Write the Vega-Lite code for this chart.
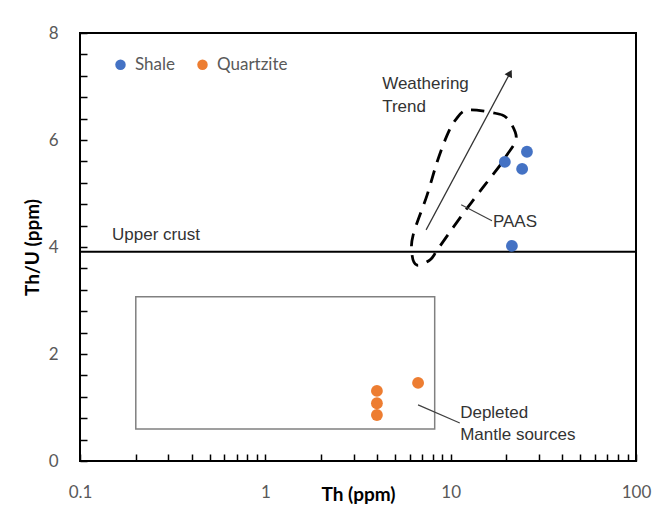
{
  "$schema": "https://vega.github.io/schema/vega-lite/v6.json",
  "width": 556,
  "height": 428,
  "autosize": "none",
  "padding": {"left": 80, "top": 33, "right": 30, "bottom": 53},
  "background": "white",
  "config": {
    "view": {"stroke": "black", "strokeWidth": 2},
    "axis": {"grid": false, "domain": false, "tickColor": "black", "tickWidth": 1.5, "tickSize": -7, "tickCount": 40, "labelFont": "Lato", "labelFontSize": 17, "labelColor": "#595959", "labelOverlap": false, "labelFlush": false, "labelBound": false, "titleFont": "Lato", "titleFontWeight": "bold", "titleFontSize": 19, "titleColor": "black"}
  },
  "datasets": {
    "pts": [
      {"th": 19.6, "thu": 5.59, "type": "Shale"},
      {"th": 25.8, "thu": 5.78, "type": "Shale"},
      {"th": 24.3, "thu": 5.46, "type": "Shale"},
      {"th": 21.4, "thu": 4.02, "type": "Shale"},
      {"th": 4.0, "thu": 1.31, "type": "Quartzite"},
      {"th": 4.0, "thu": 1.08, "type": "Quartzite"},
      {"th": 4.0, "thu": 0.86, "type": "Quartzite"},
      {"th": 6.67, "thu": 1.46, "type": "Quartzite"}
    ],
    "paas": [
      {"i": 1, "th": 12.3, "thu": 6.56},
      {"i": 2, "th": 17.4, "thu": 6.5},
      {"i": 3, "th": 20.1, "thu": 6.41},
      {"i": 4, "th": 22.3, "thu": 6.15},
      {"i": 5, "th": 22.3, "thu": 5.96},
      {"i": 6, "th": 20.1, "thu": 5.72},
      {"i": 7, "th": 18.5, "thu": 5.53},
      {"i": 8, "th": 15.3, "thu": 5.16},
      {"i": 9, "th": 12.3, "thu": 4.73},
      {"i": 10, "th": 9.9, "thu": 4.28},
      {"i": 11, "th": 8.45, "thu": 3.94},
      {"i": 12, "th": 7.74, "thu": 3.76},
      {"i": 13, "th": 6.59, "thu": 3.66},
      {"i": 14, "th": 6.19, "thu": 3.85},
      {"i": 15, "th": 6.27, "thu": 4.22},
      {"i": 16, "th": 7.46, "thu": 4.97},
      {"i": 17, "th": 8.45, "thu": 5.59},
      {"i": 18, "th": 9.57, "thu": 6.09},
      {"i": 19, "th": 10.6, "thu": 6.37}
    ],
    "notes": [
      {"th": 0.149, "thu": 4.22, "label": "Upper crust"},
      {"th": 4.27, "thu": 7.05, "label": "Weathering"},
      {"th": 4.27, "thu": 6.62, "label": "Trend"},
      {"th": 16.9, "thu": 4.47, "label": "PAAS"},
      {"th": 11.25, "thu": 0.9, "label": "Depleted"},
      {"th": 11.25, "thu": 0.49, "label": "Mantle sources"}
    ],
    "leaders": [
      {"th": 11.4, "thu": 4.79, "th2": 16.7, "thu2": 4.49},
      {"th": 6.67, "thu": 1.05, "th2": 11.2, "thu2": 0.71}
    ],
    "arrow": [
      {"th": 7.37, "thu": 4.32, "th2": 20.9, "thu2": 7.25}
    ],
    "box": [
      {"th": 0.2, "th2": 8.2, "thu": 0.6, "thu2": 3.07}
    ],
    "crust": [
      {"thu": 3.91}
    ]
  },
  "layer": [
    {
      "data": {"name": "box"},
      "mark": {"type": "rect", "fill": null, "fillOpacity": 0, "stroke": "#808080", "strokeWidth": 1.5},
      "encoding": {
        "x": {"field": "th", "type": "quantitative", "scale": {"type": "log", "domain": [0.1, 100], "nice": false},
          "axis": {"title": "Th (ppm)", "values": [0.1,0.2,0.3,0.4,0.5,0.6,0.7,0.8,0.9,1,2,3,4,5,6,7,8,9,10,20,30,40,50,60,70,80,90,100],
            "labelExpr": "datum.value == 0.1 ? '0.1' : datum.value == 1 ? '1' : datum.value == 10 ? '10' : datum.value == 100 ? '100' : ''",
            "labelPadding": 30, "titleY": 33, "titleBaseline": "middle"}},
        "x2": {"field": "th2"},
        "y": {"field": "thu", "type": "quantitative", "scale": {"domain": [0, 8], "nice": false},
          "axis": {"title": "Th/U (ppm)", "values": [0,0.4,0.8,1.2,1.6,2,2.4,2.8,3.2,3.6,4,4.4,4.8,5.2,5.6,6,6.4,6.8,7.2,7.6,8],
            "labelExpr": "datum.value % 2 == 0 ? '' + datum.value : ''",
            "labelPadding": 29, "titleX": -48, "titleY": 214, "titleBaseline": "middle", "titleAlign": "center", "titleAngle": -90}},
        "y2": {"field": "thu2"}
      }
    },
    {
      "data": {"name": "crust"},
      "mark": {"type": "rule", "stroke": "black", "strokeWidth": 2},
      "encoding": {"y": {"field": "thu", "type": "quantitative"}}
    },
    {
      "data": {"name": "paas"},
      "mark": {"type": "line", "interpolate": "cardinal-closed", "stroke": "black", "strokeWidth": 2.8, "strokeDash": [13, 9]},
      "encoding": {
        "x": {"field": "th", "type": "quantitative"},
        "y": {"field": "thu", "type": "quantitative"},
        "order": {"field": "i", "type": "quantitative"}
      }
    },
    {
      "data": {"name": "arrow"},
      "mark": {"type": "rule", "stroke": "#333333", "strokeWidth": 1.2},
      "encoding": {
        "x": {"field": "th", "type": "quantitative"},
        "y": {"field": "thu", "type": "quantitative"},
        "x2": {"field": "th2"},
        "y2": {"field": "thu2"}
      }
    },
    {
      "data": {"name": "arrow"},
      "mark": {"type": "point", "shape": "triangle-up", "angle": 28, "filled": true, "color": "#222222", "size": 70, "opacity": 1},
      "encoding": {
        "x": {"field": "th2", "type": "quantitative"},
        "y": {"field": "thu2", "type": "quantitative"}
      }
    },
    {
      "data": {"name": "leaders"},
      "mark": {"type": "rule", "stroke": "#404040", "strokeWidth": 1.2},
      "encoding": {
        "x": {"field": "th", "type": "quantitative"},
        "y": {"field": "thu", "type": "quantitative"},
        "x2": {"field": "th2"},
        "y2": {"field": "thu2"}
      }
    },
    {
      "data": {"name": "pts"},
      "mark": {"type": "point", "filled": true, "size": 140, "opacity": 1},
      "encoding": {
        "x": {"field": "th", "type": "quantitative"},
        "y": {"field": "thu", "type": "quantitative"},
        "color": {"field": "type", "type": "nominal",
          "scale": {"domain": ["Shale", "Quartzite"], "range": ["#4472C4", "#ED7D31"]},
          "legend": {"title": null, "orient": "none", "legendX": 32, "legendY": 23, "direction": "horizontal",
            "symbolType": "circle", "symbolSize": 110, "labelFont": "Lato", "labelFontSize": 17, "labelColor": "#595959", "labelOffset": 6, "columnPadding": 18}}
      }
    },
    {
      "data": {"name": "notes"},
      "mark": {"type": "text", "align": "left", "baseline": "middle", "font": "Liberation Sans", "fontSize": 17, "color": "#333333"},
      "encoding": {
        "x": {"field": "th", "type": "quantitative"},
        "y": {"field": "thu", "type": "quantitative"},
        "text": {"field": "label"}
      }
    }
  ]
}
